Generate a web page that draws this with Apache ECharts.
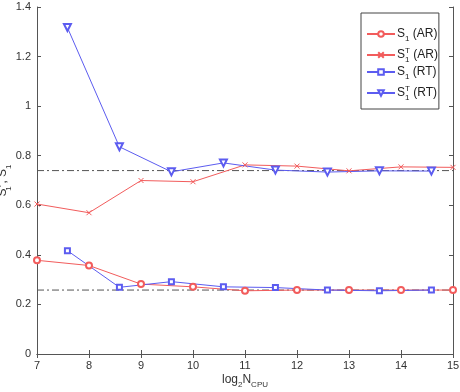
<!DOCTYPE html>
<html>
<head>
<meta charset="utf-8">
<script src="https://cdn.jsdelivr.net/npm/echarts@6/dist/echarts.min.js"></script>
<style>
  html, body { margin: 0; padding: 0; background: #fff; }
  #chart { width: 460px; height: 392px; }
</style>
</head>
<body>
<div id="chart"></div>
<script>
// x positions (log2 N_CPU)
var xAR = [7, 8, 9, 10, 11, 12, 13, 14, 15];
var xRT = [7.585, 8.585, 9.585, 10.585, 11.585, 12.585, 13.585, 14.585];

var s1AR = [0.378, 0.357, 0.282, 0.271, 0.255, 0.258, 0.258, 0.258, 0.258];
var s1tAR = [0.605, 0.570, 0.700, 0.695, 0.763, 0.758, 0.739, 0.755, 0.753];
var s1RT = [0.417, 0.269, 0.292, 0.271, 0.268, 0.258, 0.255, 0.258];
var s1tRT = [1.317, 0.836, 0.735, 0.771, 0.742, 0.734, 0.739, 0.738];

// reference levels (dash-dot)
var refLevels = [0.74, 0.258];

var red = '#f25c5c';
var blue = '#5c5cf0';

function pairs(xs, ys) {
  return xs.map(function (x, i) { return [x, ys[i]]; });
}

var chart = echarts.init(document.getElementById('chart'));

var legendText = {
  'S1 (AR)': '{b|S}{sb|1}{b| (AR)}',
  'S1T (AR)': '{b|S}{sbz|1}{sp|T}{b| (AR)}',
  'S1 (RT)': '{b|S}{sb|1}{b| (RT)}',
  'S1T (RT)': '{b|S}{sbz|1}{sp|T}{b| (RT)}'
};

var richTxt = {
  b: { fontSize: 12, color: '#222', lineHeight: 20, verticalAlign: 'middle' },
  sb: { fontSize: 8, color: '#222', lineHeight: 20, verticalAlign: 'bottom', padding: [0, 0, 1, 0] },
  sbz: { fontSize: 8, color: '#222', lineHeight: 20, verticalAlign: 'bottom', width: 0, padding: [0, 0, 1, 0] },
  sp: { fontSize: 8, color: '#222', lineHeight: 20, verticalAlign: 'top', padding: [2, 0, 0, 0] }
};

var refSeries = refLevels.map(function (v) {
  return {
    type: 'line',
    data: [[7, v], [15, v]],
    symbol: 'none',
    silent: true,
    z: 1,
    lineStyle: { color: '#555', width: 1, type: [7, 3, 2, 3] }
  };
});

var option = {
  animation: false,
  backgroundColor: '#fff',
  textStyle: { fontFamily: 'Liberation Sans, Arial, sans-serif' },
  grid: { left: 37, right: 7, top: 7, bottom: 38, outerBoundsMode: 'none', containLabel: false },
  legend: {
    data: ['S1 (AR)', 'S1T (AR)', 'S1 (RT)', 'S1T (RT)'],
    orient: 'vertical',
    left: 361,
    top: 13,
    itemWidth: 28,
    itemHeight: 7,
    itemGap: 1,
    padding: [15, 1, 6, 5],
    backgroundColor: '#fff',
    borderColor: '#444',
    borderWidth: 1,
    borderRadius: 0,
    formatter: function (n) { return legendText[n]; },
    textStyle: { rich: richTxt, padding: [0, 0, 0, -3] }
  },
  xAxis: [{
    type: 'value',
    min: 7,
    max: 15,
    interval: 1,
    name: 'log{sb2|2}N{sbc|CPU}',
    nameLocation: 'middle',
    nameGap: 17,
    nameMoveOverlap: false,
    nameTextStyle: {
      fontSize: 12, color: '#333',
      rich: {
        sb2: { fontSize: 8, color: '#333', verticalAlign: 'bottom', lineHeight: 18 },
        sbc: { fontSize: 8, color: '#333', verticalAlign: 'bottom', lineHeight: 18 }
      }
    },
    axisLine: { lineStyle: { color: '#555' } },
    axisTick: { inside: true, length: 4, lineStyle: { color: '#555' } },
    axisLabel: { fontSize: 11, color: '#333', margin: 6 },
    splitLine: { show: false }
  }, {
    type: 'value',
    position: 'top',
    min: 7,
    max: 15,
    interval: 1,
    axisLine: { lineStyle: { color: '#555' } },
    axisTick: { inside: true, length: 4, lineStyle: { color: '#555' } },
    axisLabel: { show: false },
    splitLine: { show: false }
  }],
  yAxis: [{
    type: 'value',
    min: 0,
    max: 1.4,
    interval: 0.2,
    name: '{b|S}{sbz|1}{sp|T}{b|, S}{sb|1}',
    nameLocation: 'middle',
    nameGap: 24,
    nameMoveOverlap: false,
    nameTextStyle: {
      fontSize: 12, color: '#333',
      rich: {
        b: { fontSize: 12, color: '#333', lineHeight: 20, verticalAlign: 'middle' },
        sb: { fontSize: 8, color: '#333', lineHeight: 20, verticalAlign: 'bottom' },
        sbz: { fontSize: 8, color: '#333', lineHeight: 20, verticalAlign: 'bottom', width: 0 },
        sp: { fontSize: 8, color: '#333', lineHeight: 20, verticalAlign: 'top', padding: [2, 0, 0, 0] }
      }
    },
    axisLine: { show: true, lineStyle: { color: '#555' } },
    axisTick: { show: true, inside: true, length: 4, lineStyle: { color: '#555' } },
    axisLabel: { fontSize: 11, color: '#333', margin: 6 },
    splitLine: { show: false }
  }, {
    type: 'value',
    position: 'right',
    min: 0,
    max: 1.4,
    interval: 0.2,
    axisLine: { show: true, lineStyle: { color: '#555' } },
    axisTick: { show: true, inside: true, length: 4, lineStyle: { color: '#555' } },
    axisLabel: { show: false },
    splitLine: { show: false }
  }],
  series: refSeries.concat([
    {
      name: 'S1 (AR)',
      type: 'line',
      data: pairs(xAR, s1AR),
      symbol: 'emptyCircle',
      symbolSize: 6,
      color: red,
      lineStyle: { color: red, width: 1 },
      itemStyle: { color: red, borderColor: red, borderWidth: 1 }
    },
    {
      name: 'S1T (AR)',
      type: 'line',
      data: pairs(xAR, s1tAR),
      symbol: 'path://M0,0L10,10M10,0L0,10',
      symbolSize: 5,
      color: red,
      lineStyle: { color: red, width: 1 },
      itemStyle: { color: red, borderColor: red, borderWidth: 1 }
    },
    {
      name: 'S1 (RT)',
      type: 'line',
      data: pairs(xRT, s1RT),
      symbol: 'emptyRect',
      symbolSize: 5,
      color: blue,
      lineStyle: { color: blue, width: 1 },
      itemStyle: { color: blue, borderColor: blue, borderWidth: 1 }
    },
    {
      name: 'S1T (RT)',
      type: 'line',
      data: pairs(xRT, s1tRT),
      symbol: 'emptyTriangle',
      symbolRotate: 180,
      symbolSize: 7,
      color: blue,
      lineStyle: { color: blue, width: 1 },
      itemStyle: { color: blue, borderColor: blue, borderWidth: 1 }
    }
  ])
};

chart.setOption(option);
</script>
</body>
</html>
